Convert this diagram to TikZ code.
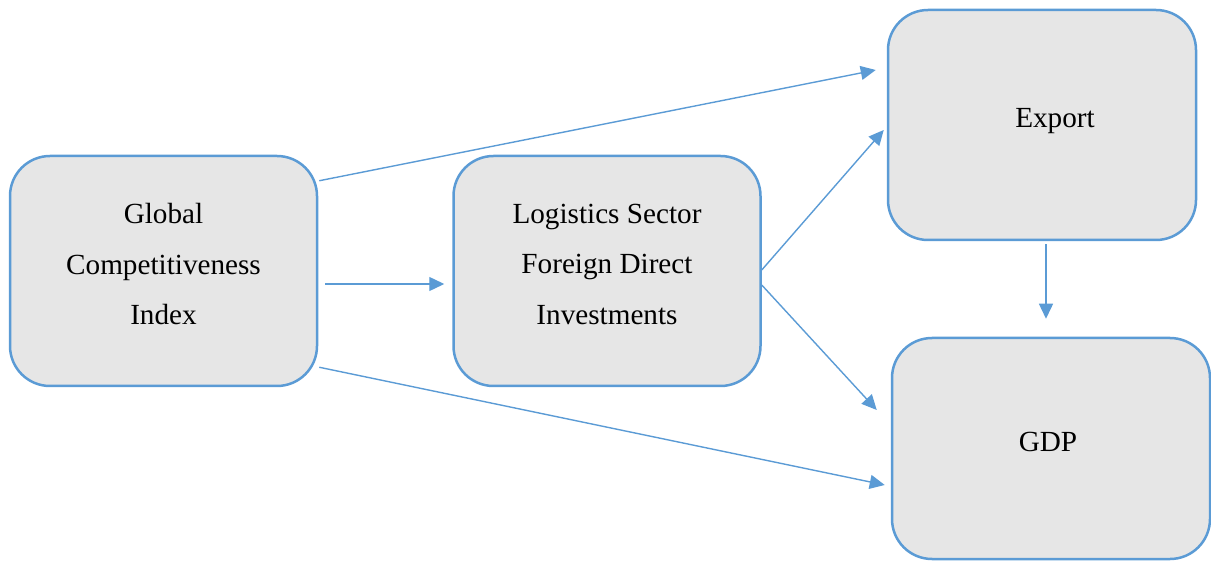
\documentclass[tikz,border=0pt]{standalone}
\usepackage{fontspec}
\setmainfont{Liberation Serif}
\usepackage{xcolor}
\usetikzlibrary{arrows.meta,positioning,calc}
\definecolor{boxblue}{HTML}{5B9BD5}
\definecolor{boxgray}{HTML}{E6E6E6}

\begin{document}
\begin{tikzpicture}[x=0.5pt,y=-0.5pt,>={Triangle[length=7.5pt,width=7pt]},
  every node/.style={font=\fontsize{14.6}{25.25}\selectfont,align=center},
  box/.style={draw=boxblue,line width=1.25pt,fill=boxgray,rounded corners=20pt,text depth=7pt},
  conn/.style={->,draw=boxblue,line width=0.7pt}]
\useasboundingbox (0,0) rectangle (1211,561);
\node[box,minimum width=153.5pt,minimum height=115pt] (gci) at (163.5,271) {Global\\Competitiveness\\Index};
\node[box,minimum width=153.5pt,minimum height=115pt,right=67pt of gci] (lfdi) {Logistics Sector\\Foreign Direct\\Investments};
\node[box,minimum width=154pt,minimum height=115pt] (export) at (1042,125) {\hspace*{13pt}Export};
\node[box,minimum width=159pt,minimum height=110.5pt] (gdp) at (1051,448.5) {GDP\hspace*{3pt}};
\draw[conn] ($(gci.north east)+(1,26)$) -- ($(export.west)+(-11,-55)$);
\draw[conn] ($(gci.east)+(7,13)$) -- ($(lfdi.west)+(-8,13)$);
\draw[conn] ($(gci.south east)+(1,-20)$) -- ($(gdp.west)+(-6,36.5)$);
\draw[conn] ($(lfdi.east)+(0,-1)$) -- ($(export.west)+(-3,5)$);
\draw[conn] ($(lfdi.east)+(0,14)$) -- ($(gdp.west)+(-14,-38.5)$);
\draw[conn] ($(export.south)+(4,3)$) -- ($(gdp.north)+(-5,-18)$);
\end{tikzpicture}
\end{document}
